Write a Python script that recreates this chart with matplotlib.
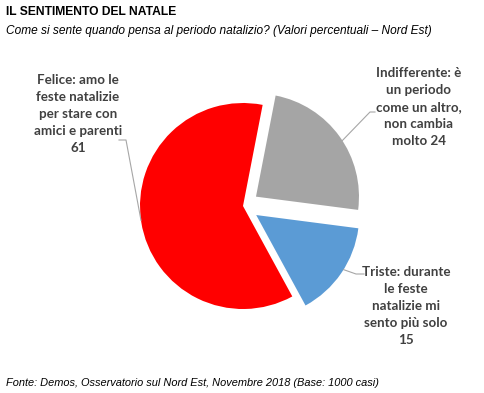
import numpy as np
import matplotlib.pyplot as plt

labels = [
    "Indifferente: è\nun periodo\ncome un altro,\nnon cambia\nmolto 24",
    "Triste: durante\nle feste\nnatalizie mi\nsento più solo\n15",
    "Felice: amo le\nfeste natalizie\nper stare con\namici e parenti\n61",
]
values = [24, 15, 61]
colours = ["#a5a5a5", "#5b9bd5", "#ff0000"]

title = "IL SENTIMENTO DEL NATALE"
subtitle = "Come si sente quando pensa al periodo natalizio? (Valori percentuali \u2013 Nord Est)"
source = "Fonte: Demos, Osservatorio sul Nord Est, Novembre 2018 (Base: 1000 casi)"

W, H = 484, 393
fig = plt.figure(figsize=(W / 100, H / 100), dpi=100)
ax = fig.add_axes([0, 0, 1, 1])

# pie geometry in pixel units (y measured from the bottom)
cx, cy, r = 243, H - 206, 103
gap = 16
wedges, _ = ax.pie(values, colors=colours, explode=[gap, gap, 0], startangle=79,
                   counterclock=False, center=(cx, cy), radius=r,
                   wedgeprops=dict(edgecolor="none"), frame=True)
ax.set_xlim(0, W)
ax.set_ylim(0, H)
ax.set_aspect("equal")
ax.axis("off")

# label block centres, angle where the leader touches the slice, leader elbow, leader end
label_pos = [(419, H - 107), (406, H - 306), (78, H - 114)]
edge_ang = [33, -32, 188]
elbow = [(370, H - 112), (356, H - 274), (126, H - 140)]
end = [(375, H - 112), (364, H - 274), (119, H - 140)]

lab_font = dict(family="Lato", weight="bold", size=9.6, color="#404040")
line_col = "#a6a6a6"
for w, txt, pos, a, el, en in zip(wedges, labels, label_pos, edge_ang, elbow, end):
    ox, oy = w.center
    t = np.deg2rad(a)
    px, py = ox + r * np.cos(t), oy + r * np.sin(t)
    ax.text(pos[0], pos[1], txt, ha="center", va="center", linespacing=1.5,
            **lab_font)
    ax.plot([px, el[0], en[0]], [py, el[1], en[1]], color=line_col, lw=0.8)

fig.text(6 / W, 1 - 12 / H, title, ha="left", va="center",
         family="Liberation Sans", weight="bold", size=8.7)
fig.text(6 / W, 1 - 31 / H, subtitle, ha="left", va="center",
         family="Liberation Sans", style="italic", size=8.55)
fig.text(6 / W, 1 - 383 / H, source, ha="left", va="center",
         family="Liberation Sans", style="italic", size=7.95)

fig.savefig("out.png", dpi=100)
